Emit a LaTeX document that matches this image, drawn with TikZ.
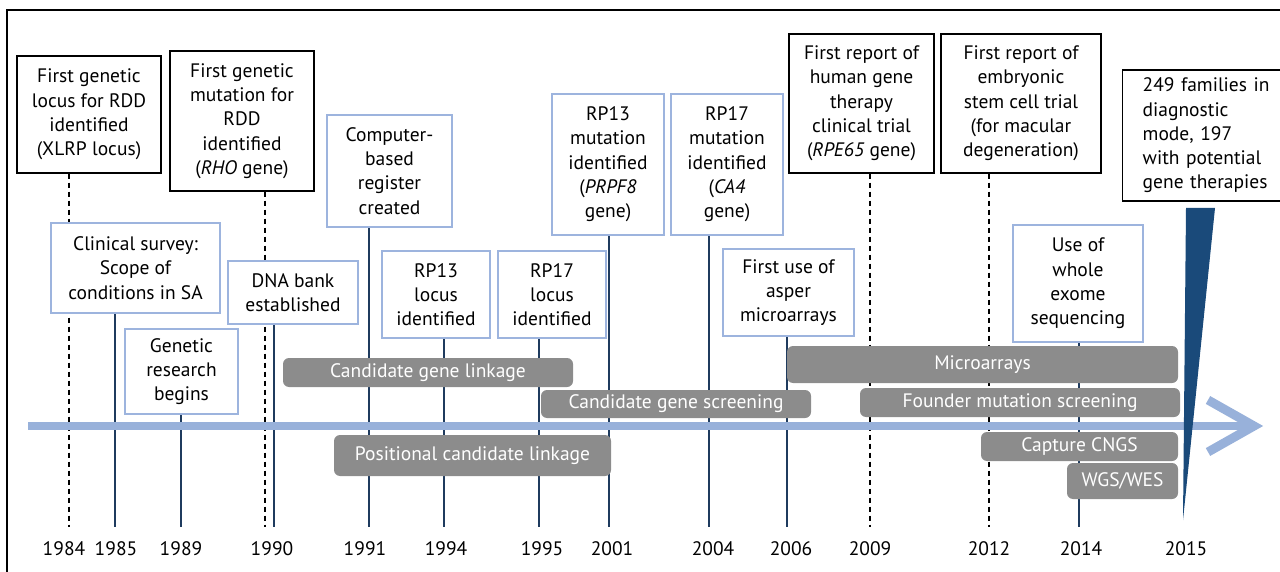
\documentclass[tikz,border=0pt]{standalone}
\usepackage{fontspec}
\setmainfont{PT Sans}
\usetikzlibrary{arrows.meta}
\pgfdeclarelayer{background}
\pgfsetlayers{background,main}
\definecolor{boxblue}{HTML}{9DB4DE}
\definecolor{axisblue}{HTML}{98B1DA}
\definecolor{bargray}{HTML}{8C8C8C}
\definecolor{wedgenavy}{HTML}{1A4A7A}
\definecolor{ticknavy}{HTML}{1F3B5E}
\tikzset{
	event/.style={draw=boxblue, line width=1.6pt, fill=white, align=center, inner sep=0pt},
	milestone/.style={draw=black, line width=1.4pt, fill=white, align=center, inner sep=0pt},
	method/.style={fill=bargray, rounded corners=6pt, text=white, inner sep=0pt},
	yearlabel/.style={inner sep=0pt},
	tick/.style={ticknavy, line width=1.5pt},
	dashtick/.style={black, line width=1.2pt, dash pattern=on 5pt off 4pt},
}
\begin{document}
\begin{tikzpicture}[x=1pt, y=-1pt, font=\fontsize{19.5}{24.3}\selectfont]
	\useasboundingbox (0,0) rectangle (1280,572);
	\clip (0,0) rectangle (1280,572);
	\draw[line width=1.2pt] (7,10) rectangle (1300,600);
	% timeline axis
	\coordinate (tstart) at (28,426);
	\coordinate (tend) at (1254,426);
	\draw[axisblue, line width=8pt] (tstart) -- ([xshift=-6pt]tend);
	\draw[axisblue, line width=9pt, line join=miter] ([xshift=-46pt,yshift=-26pt]tend) -- (tend) -- ([xshift=-46pt,yshift=26pt]tend);
	% year ends of the ticks
	\coordinate (y1984) at (69,527);
	\coordinate (y1985) at (115,527);
	\coordinate (y1989) at (181,527);
	\coordinate (y1990a) at (265,527);
	\coordinate (y1990) at (274,527);
	\coordinate (y1991) at (369,527);
	\coordinate (y1994) at (444,527);
	\coordinate (y1995) at (539,527);
	\coordinate (y2001) at (609,527);
	\coordinate (y2004) at (709,527);
	\coordinate (y2006) at (787,527);
	\coordinate (y2009) at (870,527);
	\coordinate (y2012) at (989,527);
	\coordinate (y2014) at (1079,527);
	% milestones (black) and events (blue)
	\node[milestone, minimum width=144, minimum height=117] (xlrp) at (89,114.5) {First genetic\\locus for RDD\\identified\\(XLRP locus)};
	\node[milestone, minimum width=144, minimum height=140] (rho) at (242,121) {First genetic\\mutation for\\RDD\\identified\\(\textit{RHO} gene)};
	\node[event, minimum width=169, minimum height=90] (survey) at (135.5,268) {Clinical survey:\\Scope of\\conditions in SA};
	\node[event, minimum width=125, minimum height=112] (register) at (389.5,171) {Computer-\\based\\register\\created};
	\node[event, minimum width=130, minimum height=63] (dnabank) at (293,292.5) {DNA bank\\established};
	\node[event, minimum width=113, minimum height=85] (research) at (181.5,371.5) {Genetic\\research\\begins};
	\node[event, minimum width=108, minimum height=87] (rpxiiilocus) at (436,294.5) {RP13\\locus\\identified};
	\node[event, minimum width=108, minimum height=87] (rpxviilocus) at (552,294.5) {RP17\\locus\\identified};
	\node[event, minimum width=112, minimum height=141] (prpf) at (608,164.5) {RP13\\mutation\\identified\\(\textit{PRPF8}\\gene)};
	\node[event, minimum width=112, minimum height=141] (caiv) at (727,164.5) {RP17\\mutation\\identified\\(\textit{CA4}\\gene)};
	\node[milestone, minimum width=145, minimum height=139] (rpe) at (861.5,103.5) {First report of\\human gene\\therapy\\clinical trial\\(\textit{RPE65} gene)};
	\node[milestone, minimum width=160, minimum height=139] (stemcell) at (1021,103.5) {First report of\\embryonic\\stem cell trial\\(for macular\\degeneration)};
	\node[milestone, anchor=west, minimum height=131, text width=130, inner xsep=20pt, align=left] (families) at (1122,135.5) {249 families in\\diagnostic\\mode, 197\\with potential\\gene therapies};
	\node[event, minimum width=131, minimum height=87] (asper) at (788.5,292.5) {First use of\\asper\\microarrays};
	\node[event, minimum width=130, minimum height=117] (exome) at (1078,283.5) {Use of\\whole\\exome\\sequencing};
	% ticks behind the boxes
	\begin{pgfonlayer}{background}
	\draw[dashtick] (xlrp.south -| y1984) -- (y1984);
	\draw[tick] (survey.south -| y1985) -- (y1985);
	\draw[tick] (research.south -| y1989) -- (y1989);
	\draw[dashtick] (rho.south -| y1990a) -- (y1990a);
	\draw[tick] (dnabank.south -| y1990) -- (y1990);
	\draw[tick] (register.south -| y1991) -- (y1991);
	\draw[tick] (rpxiiilocus.south -| y1994) -- (y1994);
	\draw[tick] (rpxviilocus.south -| y1995) -- (y1995);
	\draw[tick] (prpf.south -| y2001) -- (y2001);
	\draw[tick] (caiv.south -| y2004) -- (y2004);
	\draw[tick] (asper.south -| y2006) -- (y2006);
	\draw[dashtick] (rpe.south -| y2009) -- (y2009);
	\draw[dashtick] (stemcell.south -| y2012) -- (y2012);
	\draw[tick] (exome.south -| y2014) -- (y2014);
	\end{pgfonlayer}
	% methods
	\node[method, minimum width=290, minimum height=29] (cgl) at (428,372.5) {Candidate gene linkage};
	\node[method, minimum width=270, minimum height=28] (cgs) at (676,404) {Candidate gene screening};
	\node[method, minimum width=277, minimum height=41] (pcl) at (472.5,455.5) {Positional candidate linkage};
	\node[method, minimum width=391, minimum height=37] (micro) at (982.5,364.5) {Microarrays};
	\node[method, minimum width=320, minimum height=29] (founder) at (1020,402.5) {Founder mutation screening};
	\node[method, minimum width=197, minimum height=29] (cngs) at (1079.5,446.5) {Capture CNGS};
	\node[method, minimum width=111, minimum height=36] (wgs) at (1122.5,481) {WGS/WES};
	% 2015 wedge
	\fill[wedgenavy] (1186,208) -- (1215,208) -- (1183,520) -- cycle;
	% years
	\foreach \x/\yr in {64/1984, 116/1985, 181/1989, 272/1990, 365/1991, 446/1994, 542/1995, 612/2001, 713/2004, 791/2006, 870/2009, 989/2012, 1081/2014, 1186/2015}
		\node[yearlabel] (yr\yr) at (\x,549) {\yr};
\end{tikzpicture}
\end{document}
